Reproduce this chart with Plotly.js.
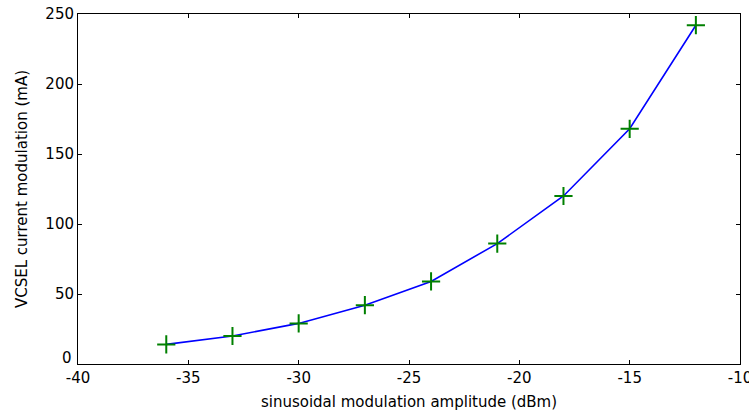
<!DOCTYPE html>
<html>
<head>
<meta charset="utf-8">
<script src="https://cdn.plot.ly/plotly-3.0.1.min.js"></script>
<style>html,body{margin:0;padding:0;background:#fff;}#chart{width:749px;height:412px;}</style>
</head>
<body>
<div id="chart"></div>
<script>
const amplitude_dBm = [-36, -33, -30, -27, -24, -21, -18, -15, -12];
const current_mA = [14, 20, 29, 42, 59, 86, 120, 168, 242];
const xTicks = [-40, -35, -30, -25, -20, -15, -10];
const yTicks = [0, 50, 100, 150, 200, 250];

const font = {family: 'DejaVu Sans, sans-serif', size: 15, color: '#000'};

const traces = [
  {x: amplitude_dBm, y: current_mA, type: 'scatter', mode: 'lines',
   line: {color: '#0000ff', width: 1.6}, hoverinfo: 'skip'},
  {x: amplitude_dBm, y: current_mA, type: 'scatter', mode: 'markers',
   marker: {symbol: 'cross-thin', size: 13, line: {color: '#008000', width: 2}}}
];

const axisCommon = {
  showline: true, linecolor: '#000', linewidth: 1, mirror: 'ticks',
  ticks: 'inside', ticklen: 4, tickwidth: 1, tickcolor: '#000',
  showgrid: false, zeroline: false, tickfont: font, ticklabeloverflow: 'allow'
};

const layout = {
  width: 749, height: 412,
  margin: {l: 78, r: 9, t: 14, b: 48},
  paper_bgcolor: '#fff', plot_bgcolor: '#fff',
  showlegend: false,
  font: font,
  xaxis: Object.assign({}, axisCommon, {
    range: [-40, -10], tickvals: xTicks, ticktext: xTicks.map(String),
    title: {text: 'sinusoidal modulation amplitude (dBm)', font: font, standoff: 10}
  }),
  yaxis: Object.assign({}, axisCommon, {
    range: [0, 250], tickvals: yTicks,
    ticktext: yTicks.map(v => v === 0 ? '' : String(v)),
    title: {text: 'VCSEL current modulation (mA)', font: font, standoff: 14}
  }),
  annotations: [{
    text: String(yTicks[0]), xref: 'paper', x: 0, yref: 'y', y: yTicks[0],
    xanchor: 'right', yanchor: 'middle', xshift: -4, yshift: 6,
    showarrow: false, font: font
  }]
};

Plotly.newPlot('chart', traces, layout, {displayModeBar: false, staticPlot: true});
</script>
</body>
</html>
